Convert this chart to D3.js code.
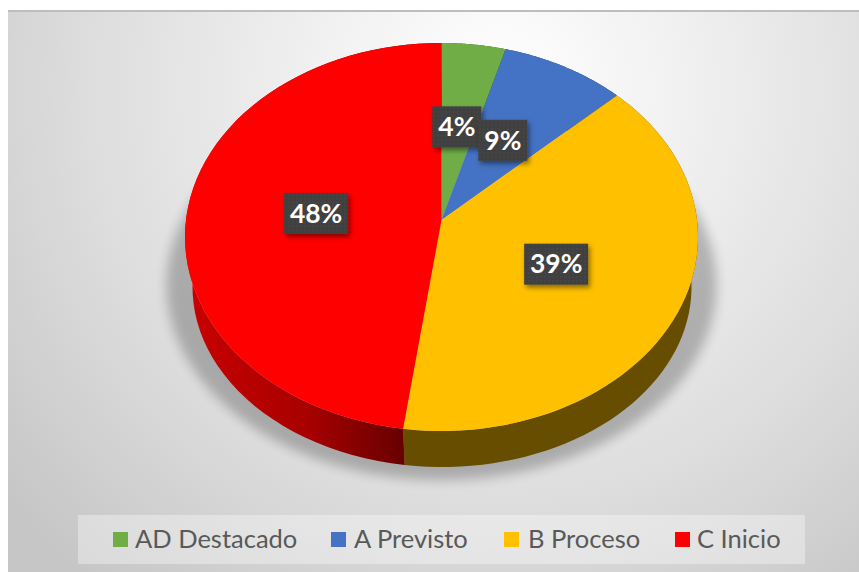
<!DOCTYPE html>
<html>
<head>
<meta charset="utf-8">
<script src="https://cdn.jsdelivr.net/npm/d3@7"></script>
<style>
  html, body { margin: 0; padding: 0; background: #fff; }
  svg { display: block; }
</style>
</head>
<body>
<svg id="chart"></svg>
<script>
const categories = ["AD Destacado", "A Previsto", "B Proceso", "C Inicio"];
const shares = [4.4, 8.6, 39.2, 47.8];
const colors = ["#70ad47", "#4472c4", "#ffc000", "#ff0000"];

const width = 859, height = 572;
const plot = { x: 8, y: 10 };
const topFace = { cx: 441.5, cy: 237, rx: 256.5, ry: 194, apexY: 220 };
const bottomRim = { cx: 442, cy: 287, rx: 249.5, ry: 180 };
const legendX = { swatch: [113, 331, 504, 675], text: [135, 354, 528, 697] };
const labelNudge = [[-2, 1], [-4, 1.5], [3, 0.5], [0, 0]];

const svg = d3.select("#chart").attr("width", width).attr("height", height);
const defs = svg.append("defs");

// background: bright spot at the top, grey towards the corners
const bg = defs.append("radialGradient").attr("id", "bg")
  .attr("gradientUnits", "userSpaceOnUse")
  .attr("cx", 500).attr("cy", 90).attr("r", 640);
bg.append("stop").attr("offset", 0).attr("stop-color", "#ffffff");
bg.append("stop").attr("offset", 0.3).attr("stop-color", "#f0f0f0");
bg.append("stop").attr("offset", 0.65).attr("stop-color", "#dddddd");
bg.append("stop").attr("offset", 1).attr("stop-color", "#c6c6c6");

defs.append("filter").attr("id", "pieShadow")
  .attr("x", "-20%").attr("y", "-20%").attr("width", "140%").attr("height", "140%")
  .append("feGaussianBlur").attr("stdDeviation", 6);

const boxShadow = defs.append("filter").attr("id", "boxShadow")
  .attr("x", "-30%").attr("y", "-30%").attr("width", "160%").attr("height", "160%");
boxShadow.append("feDropShadow")
  .attr("dx", 2).attr("dy", 3).attr("stdDeviation", 2.5)
  .attr("flood-color", "#000").attr("flood-opacity", 0.45);

const dots = defs.append("pattern").attr("id", "dots")
  .attr("width", 4).attr("height", 4).attr("patternUnits", "userSpaceOnUse");
dots.append("rect").attr("width", 4).attr("height", 4).attr("fill", "#404040");
dots.append("circle").attr("cx", 1).attr("cy", 1).attr("r", 0.7).attr("fill", "#4e4e4e");

// side wall of the red slice gets darker towards the front
const redWall = defs.append("linearGradient").attr("id", "wall3")
  .attr("gradientUnits", "userSpaceOnUse")
  .attr("x1", 190).attr("x2", 403).attr("y1", 0).attr("y2", 0);
redWall.append("stop").attr("offset", 0).attr("stop-color", "#c80000");
redWall.append("stop").attr("offset", 0.55).attr("stop-color", "#a80000");
redWall.append("stop").attr("offset", 1).attr("stop-color", "#680000");

svg.append("rect").attr("x", plot.x).attr("y", plot.y)
  .attr("width", width - plot.x).attr("height", height - plot.y)
  .attr("fill", "url(#bg)");
svg.append("rect").attr("x", plot.x).attr("y", plot.y)
  .attr("width", width - plot.x).attr("height", 2)
  .attr("fill", "#bdbdbd");

const pie = d3.pie().sort(null).value(d => d);
const slices = pie(shares);

// the tilted pie is seen in perspective, so the slices meet above the centre of the ellipse
const apexOffset = (topFace.apexY - topFace.cy) / topFace.ry;
function rayLength(a) {
  const b = apexOffset * -Math.cos(a);
  return -b + Math.sqrt(b * b + 1 - apexOffset * apexOffset);
}
// k is the distance from the apex, in ellipse radii
function onFace(a, k, ring) {
  const ux = k * Math.sin(a), uy = apexOffset - k * Math.cos(a);
  return [ring.cx + ring.rx * ux, ring.cy + ring.ry * uy];
}
const rim = (a, ring) => onFace(a, rayLength(a), ring);
const line = d3.line();
const sample = s => d3.range(0, 61).map(i => s.startAngle + (s.endAngle - s.startAngle) * i / 60);

// soft shadow under the pie
const shadowRing = { cx: 441.5, cy: 285, rx: 275, ry: 195 };
svg.append("ellipse")
  .attr("cx", shadowRing.cx).attr("cy", shadowRing.cy)
  .attr("rx", shadowRing.rx).attr("ry", shadowRing.ry)
  .attr("fill", "#000").attr("opacity", 0.24)
  .attr("filter", "url(#pieShadow)");

// side walls
const wallFill = ["#385723", "#223962", "#664d00", "url(#wall3)"];
svg.append("g").selectAll("path").data(slices).join("path")
  .attr("d", s => {
    const angles = sample(s);
    const upper = angles.map(a => rim(a, topFace));
    const lower = angles.map(a => rim(a, bottomRim)).reverse();
    return line(upper.concat(lower)) + "Z";
  })
  .attr("fill", (d, i) => wallFill[i]);

// top faces
svg.append("g").selectAll("path").data(slices).join("path")
  .attr("d", s => {
    const pts = sample(s).map(a => rim(a, topFace));
    return line([[topFace.cx, topFace.apexY]].concat(pts)) + "Z";
  })
  .attr("fill", (d, i) => colors[i]);

// data labels
const labelW = s => (Math.round(s.value) < 10 ? 49 : 64);
const labels = svg.append("g").selectAll("g").data(slices).join("g")
  .attr("transform", (s, i) => {
    const p = onFace((s.startAngle + s.endAngle) / 2, 0.49, topFace);
    return `translate(${p[0] + labelNudge[i][0]},${p[1] + labelNudge[i][1]})`;
  });
labels.append("rect")
  .attr("x", s => -labelW(s) / 2)
  .attr("y", -20.5)
  .attr("width", labelW)
  .attr("height", 41)
  .attr("fill", "url(#dots)")
  .attr("filter", "url(#boxShadow)");
labels.append("text")
  .attr("text-anchor", "middle")
  .attr("dy", "0.35em")
  .attr("font-family", "Lato, sans-serif")
  .attr("font-weight", 700)
  .attr("font-size", 26.5)
  .attr("fill", "#fff")
  .text(s => Math.round(s.value) + "%");

// legend
svg.append("rect").attr("x", 78).attr("y", 515).attr("width", 727).attr("height", 49)
  .attr("fill", "#fff").attr("opacity", 0.35);
const legend = svg.append("g").selectAll("g").data(categories).join("g");
legend.append("rect")
  .attr("x", (d, i) => legendX.swatch[i]).attr("y", 532)
  .attr("width", 15).attr("height", 15)
  .attr("fill", (d, i) => colors[i]);
legend.append("text")
  .attr("x", (d, i) => legendX.text[i]).attr("y", 548)
  .attr("font-family", "Lato, sans-serif")
  .attr("font-size", 25.5)
  .attr("fill", "#595959")
  .text(d => d);
</script>
</body>
</html>
